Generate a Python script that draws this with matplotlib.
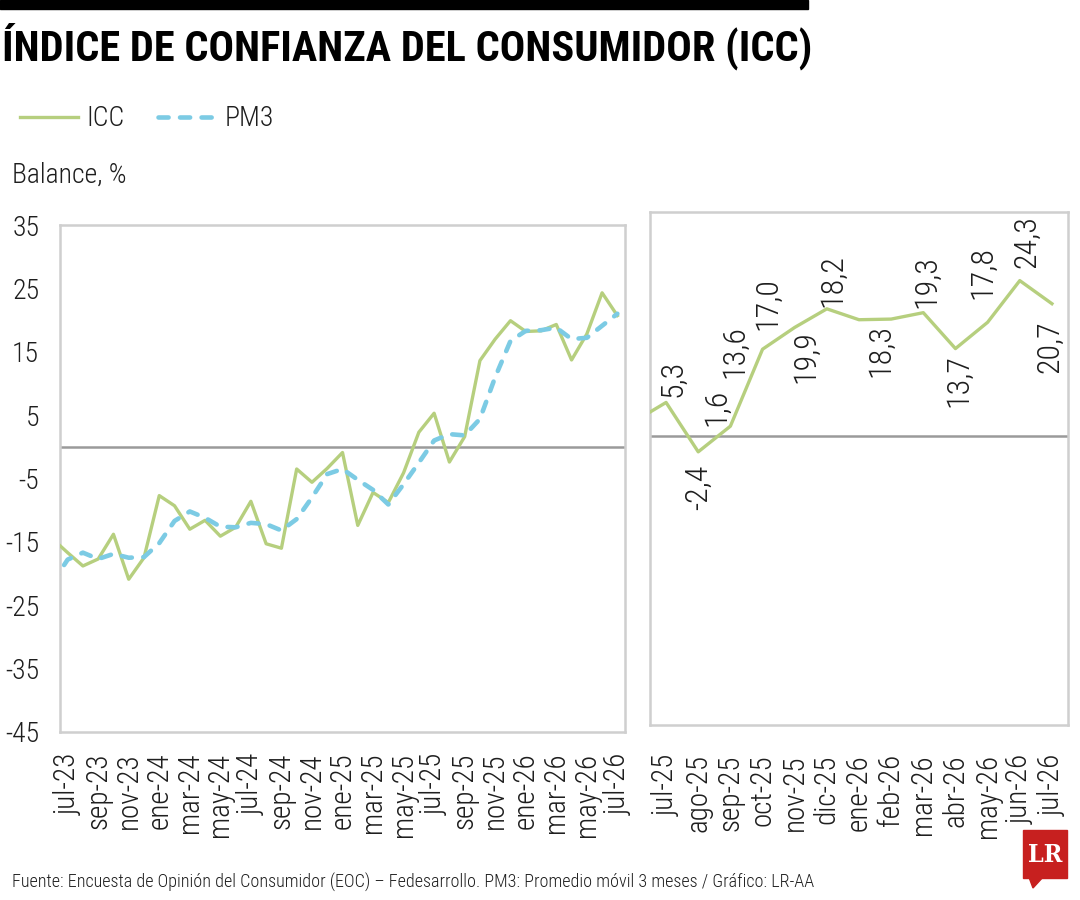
import numpy as np
import matplotlib.pyplot as plt
from matplotlib.patches import Rectangle, Polygon

plt.rcParams['font.family'] = ['Roboto Condensed', 'DejaVu Sans']
plt.rcParams['font.stretch'] = 'condensed'
plt.rcParams['font.weight'] = 'light'
plt.rcParams['axes.unicode_minus'] = False

# monthly data, jul-23 .. jul-26
months = ["jul-23", "ago-23", "sep-23", "oct-23", "nov-23", "dic-23",
          "ene-24", "feb-24", "mar-24", "abr-24", "may-24", "jun-24",
          "jul-24", "ago-24", "sep-24", "oct-24", "nov-24", "dic-24",
          "ene-25", "feb-25", "mar-25", "abr-25", "may-25", "jun-25",
          "jul-25", "ago-25", "sep-25", "oct-25", "nov-25", "dic-25",
          "ene-26", "feb-26", "mar-26", "abr-26", "may-26", "jun-26",
          "jul-26"]
icc = [-16.7, -18.8, -17.7, -13.8, -20.9, -17.5,
       -7.7, -9.3, -13.0, -11.6, -14.1, -12.7,
       -8.6, -15.3, -16.0, -3.5, -5.6, -3.4,
       -0.9, -12.4, -7.2, -8.8, -4.1, 2.3,
       5.3, -2.4, 1.6, 13.6, 17.0, 19.9,
       18.2, 18.3, 19.3, 13.7, 17.8, 24.3,
       20.7]
pm3 = [-17.8, -16.7, -17.7, -16.9, -17.5, -17.4,
       -15.2, -11.7, -10.2, -11.2, -12.6, -12.7,
       -12.0, -12.2, -13.2, -11.4, -8.0, -4.3,
       -3.5, -5.2, -6.8, -9.1, -5.9, -2.5,
       1.0, 2.0, 1.8, 4.4, 11.0, 16.7,
       18.3, 18.4, 18.8, 17.0, 17.2, 19.1,
       21.0]
icc_jun23 = -14.5        # previous month, only seen at the left edge
pm3_jun23 = -21.5

green = "#b6cf7e"
blue = "#7ccbe4"
zero_col = "#9a9a9a"
frame_col = "#cfcfcf"
txt_col = "#1e1e1e"

W, H = 1080, 900
def fx(x): return x / W
def fy(y): return 1 - y / H

fig = plt.figure(figsize=(10.8, 9), dpi=100)

# ---- left panel: whole series
ax1 = fig.add_axes([fx(60), fy(732), 565 / W, 507 / H])
x1 = np.arange(-1, len(months))
ax1.plot(x1, [icc_jun23] + icc, color=green, lw=2.4, zorder=3, label="ICC")
ax1.plot(x1, [pm3_jun23] + pm3, color=blue, lw=3.3, linestyle=(0, (2.2, 2.5)),
         dash_capstyle="round", zorder=4, label="PM3")
ax1.axhline(0, color=zero_col, lw=1.8, zorder=2)
ax1.set_xlim(-0.5, len(months) - 0.5)
ax1.set_ylim(-45, 35)
yt = np.arange(-45, 36, 10)
ax1.set_yticks(yt)
ax1.set_yticklabels([str(v) for v in yt])
ax1.set_xticks(np.arange(0, len(months), 2))
ax1.set_xticklabels(months[::2], rotation=90)
ax1.tick_params(axis="y", length=0, labelsize=20, pad=15)
ax1.tick_params(axis="x", length=0, labelsize=21, pad=15)

# ---- right panel: last 13 months with labels
n_last = 13
ax2 = fig.add_axes([fx(650), fy(725), 418 / W, 513 / H])
x2 = np.arange(-1, n_last)
last = icc[-(n_last + 1):]
ax2.plot(x2, last, color=green, lw=2.4, zorder=3)
ax2.axhline(0, color=zero_col, lw=1.8, zorder=2)
ax2.set_xlim(-0.5, n_last - 0.5)
ax2.set_ylim(-45, 35)
ax2.set_yticks([])
ax2.set_xticks(np.arange(n_last))
ax2.set_xticklabels(months[-n_last:], rotation=90)
ax2.tick_params(axis="x", length=0, labelsize=21, pad=21)

label_off = [(7, 24), (0, -35), (-14, 19), (-28, -2), (-27, 24), (-21, -48),
             (-26, 39), (-10, -31), (3, 31), (3, -32), (-5, 50), (7, 39),
             (-2, -43)]
for i, v in enumerate(icc[-n_last:]):
    ax2.annotate(f"{v:.1f}".replace(".", ","), (i, v), xytext=label_off[i],
                 textcoords="offset pixels", rotation=90, ha="center",
                 va="center", fontsize=23, color=txt_col)

for ax in (ax1, ax2):
    for s in ax.spines.values():
        s.set_color(frame_col)
        s.set_linewidth(1.8)
    for t in ax.get_xticklabels() + ax.get_yticklabels():
        t.set_color(txt_col)

# ---- texts
fig.patches.append(Rectangle((0, fy(9)), fx(808), 9 / H, color="black",
                             transform=fig.transFigure))
fig.text(fx(2), fy(46), "ÍNDICE DE CONFIANZA DEL CONSUMIDOR (ICC)",
         fontsize=30.5, fontweight="bold", va="center", ha="left")
leg = ax1.legend(loc="center left", bbox_to_anchor=(fx(20), fy(119)),
                 bbox_transform=fig.transFigure, ncol=2, frameon=False,
                 fontsize=20, handlelength=2.1, handletextpad=0.3,
                 columnspacing=1.2, borderaxespad=0, borderpad=0)
for t in leg.get_texts():
    t.set_color(txt_col)
fig.text(fx(12), fy(175), "Balance, %", fontsize=20, va="center", ha="left",
         color=txt_col)
fig.text(fx(12), fy(882), "Fuente: Encuesta de Opinión del Consumidor (EOC) – "
         "Fedesarrollo. PM3: Promedio móvil 3 meses / Gráfico: LR-AA",
         fontsize=13.1, va="center", ha="left", color=txt_col)

# LR logo
fig.patches.append(Rectangle((fx(1023), fy(878)), 44 / W, 48 / H,
                             color="#c7201f", transform=fig.transFigure))
fig.patches.append(Polygon([(fx(1027), fy(872)), (fx(1033), fy(888)),
                            (fx(1044), fy(876))], closed=True,
                           color="#c7201f", transform=fig.transFigure))
fig.text(fx(1045), fy(855), "LR", fontsize=18, fontweight="bold",
         family="DejaVu Serif", color="white", ha="center", va="center")

fig.savefig("out.png", dpi=100)
